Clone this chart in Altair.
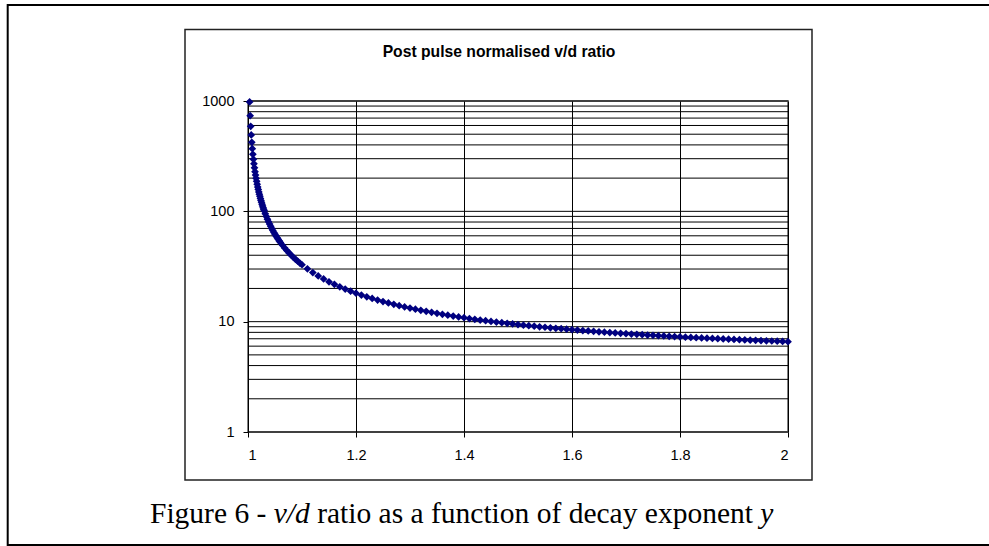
import altair as alt
import pandas as pd

# ---- data ----
x_part1 = [1.003, 1.004, 1.005, 1.006, 1.007, 1.008, 1.009, 1.010, 1.011, 1.012,
           1.013, 1.014, 1.015, 1.016, 1.017, 1.018, 1.019, 1.020, 1.021, 1.022,
           1.023, 1.024, 1.025, 1.026, 1.027, 1.028, 1.029, 1.030]
y_part1 = [980, 736, 589, 492, 422, 370, 329, 296, 270, 248,
           229, 213, 199, 187, 176, 166, 158, 150, 143, 137,
           131, 125.5, 120.6, 116.1, 111.9, 108.0, 104.4, 101.1]

x_part2 = [1.032, 1.034, 1.036, 1.038, 1.040, 1.042, 1.044, 1.046, 1.048, 1.050,
           1.052, 1.054, 1.056, 1.058, 1.060]
y_part2 = [95.0, 89.6, 84.8, 80.5, 76.7, 73.2, 70.0, 67.1, 64.4, 62.0,
           59.7, 57.7, 55.7, 53.9, 52.2]

x_part3 = [1.064, 1.068, 1.072, 1.076, 1.080, 1.084, 1.088, 1.092, 1.096, 1.100]
y_part3 = [49.2, 46.5, 44.1, 42.0, 40.0, 38.3, 36.7, 35.3, 34.0, 32.8]

x_part4 = [1.11, 1.12, 1.13, 1.14, 1.15, 1.16, 1.17, 1.18, 1.19, 1.20,
           1.21, 1.22, 1.23, 1.24, 1.25, 1.26, 1.27, 1.28, 1.29, 1.30,
           1.31, 1.32, 1.33, 1.34, 1.35, 1.36, 1.37, 1.38, 1.39, 1.40,
           1.41, 1.42, 1.43, 1.44, 1.45, 1.46, 1.47, 1.48, 1.49, 1.50,
           1.51, 1.52, 1.53, 1.54, 1.55, 1.56, 1.57, 1.58, 1.59, 1.60,
           1.61, 1.62, 1.63, 1.64, 1.65, 1.66, 1.67, 1.68, 1.69, 1.70,
           1.71, 1.72, 1.73, 1.74, 1.75, 1.76, 1.77, 1.78, 1.79, 1.80,
           1.81, 1.82, 1.83, 1.84, 1.85, 1.86, 1.87, 1.88, 1.89, 1.90,
           1.91, 1.92, 1.93, 1.94, 1.95, 1.96, 1.97, 1.98, 1.99, 2.00]
y_part4 = [30.10, 27.88, 26.00, 24.40, 23.00, 21.79, 20.71, 19.76, 18.90, 18.13,
           17.44, 16.81, 16.23, 15.70, 15.22, 14.77, 14.35, 13.97, 13.61, 13.28,
           12.96, 12.67, 12.40, 12.14, 11.89, 11.66, 11.45, 11.24, 11.04, 10.86,
           10.68, 10.51, 10.35, 10.20, 10.06, 9.92, 9.78, 9.66, 9.53, 9.42,
           9.30, 9.20, 9.09, 8.99, 8.90, 8.80, 8.71, 8.63, 8.54, 8.46,
           8.39, 8.31, 8.24, 8.17, 8.10, 8.03, 7.97, 7.91, 7.85, 7.79,
           7.73, 7.68, 7.62, 7.57, 7.52, 7.47, 7.42, 7.37, 7.33, 7.29,
           7.24, 7.20, 7.16, 7.12, 7.08, 7.04, 7.01, 6.97, 6.93, 6.90,
           6.86, 6.83, 6.80, 6.77, 6.74, 6.71, 6.68, 6.65, 6.62, 6.59]

x_ticks = [1, 1.2, 1.4, 1.6, 1.8, 2]
y_major = [1, 10, 100, 1000]
y_grid = [1, 2, 3, 4, 5, 6, 7, 8, 9,
          10, 20, 30, 40, 50, 60, 70, 80, 90,
          100, 200, 300, 400, 500, 600, 700, 800, 900, 1000]

chart_title = "Post pulse normalised v/d ratio"
caption_parts = ["Figure 6 -", "v/d", "ratio as a function of decay exponent", "y"]

# ---- layout (pixels) ----
PL, PT = 248, 101            # plot-area origin in the page
W, H = 540, 331              # plot-area size
CAP_SIZE = 29.5

df = pd.DataFrame({"g": x_part1 + x_part2 + x_part3 + x_part4,
                   "r": y_part1 + y_part2 + y_part3 + y_part4})
grid_df = pd.DataFrame({"v": y_grid})
one = alt.Data(values=[{"k": 1}])

xscale = alt.Scale(domain=[1, 2], nice=False, zero=False)
yscale = alt.Scale(type="log", domain=[1, 1000], nice=False)

yaxis = alt.Axis(values=y_major, format="d", grid=False, domain=False,
                 ticks=True, tickSize=5, tickColor="black",
                 labelFont="Liberation Sans", labelFontSize=14.5,
                 labelColor="black", labelPadding=9, title=None)
xaxis = alt.Axis(values=x_ticks, labelExpr="'' + datum.value",
                 grid=True, gridColor="black", gridWidth=1,
                 domain=False, ticks=True, tickSize=5, tickColor="black",
                 labelFont="Liberation Sans", labelFontSize=14.5,
                 labelColor="black", labelPadding=11, title=None)

outer = alt.Chart(one).mark_rect(fill=None, stroke="black", strokeWidth=2).encode(
    x=alt.value(7.7 - PL), x2=alt.value(1000 - PL),
    y=alt.value(5 - PT), y2=alt.value(545 - PT))

inner = alt.Chart(one).mark_rect(fill=None, stroke="#222222", strokeWidth=1.5).encode(
    x=alt.value(185 - PL), x2=alt.value(812 - PL),
    y=alt.value(29.5 - PT), y2=alt.value(480 - PT))

hgrid = alt.Chart(grid_df).mark_rule(color="black", strokeWidth=1).encode(
    y=alt.Y("v:Q", scale=yscale, axis=yaxis))

points = alt.Chart(df).mark_point(shape="diamond", filled=True, color="#000080",
                                  size=60, opacity=1).encode(
    x=alt.X("g:Q", scale=xscale, axis=xaxis),
    y=alt.Y("r:Q", scale=yscale, axis=yaxis))

title = alt.Chart(one).mark_text(text=chart_title, font="Liberation Sans",
                                 fontWeight="bold", fontSize=15.7, color="black",
                                 align="center", baseline="alphabetic").encode(
    x=alt.value(499 - PL), y=alt.value(57 - PT))

# caption segments placed one after another (Times-metric widths in em, incl. following space)
seg_em = [4.194, 1.222 + 0.25, 14.774 + 0.25, 0.444]
caps = []
xpos = 150 - PL
for txt, em in zip(caption_parts, seg_em):
    italic = txt in ("v/d", "y")
    caps.append(alt.Chart(one).mark_text(text=txt, font="Liberation Serif",
                                         fontSize=CAP_SIZE, color="black",
                                         fontStyle="italic" if italic else "normal",
                                         align="left", baseline="alphabetic").encode(
        x=alt.value(xpos), y=alt.value(523 - PT)))
    xpos += em * CAP_SIZE

chart = alt.layer(outer, inner, hgrid, points, title, *caps).properties(
    width=W, height=H,
    autosize=alt.AutoSizeParams(type="none"),
    padding={"left": PL, "top": PT, "right": 989 - PL - W, "bottom": 546 - PT - H},
    background="white",
).configure_view(stroke="#808080", strokeWidth=2)

chart.save("out.html", embed_options={"renderer": "svg", "actions": False})
